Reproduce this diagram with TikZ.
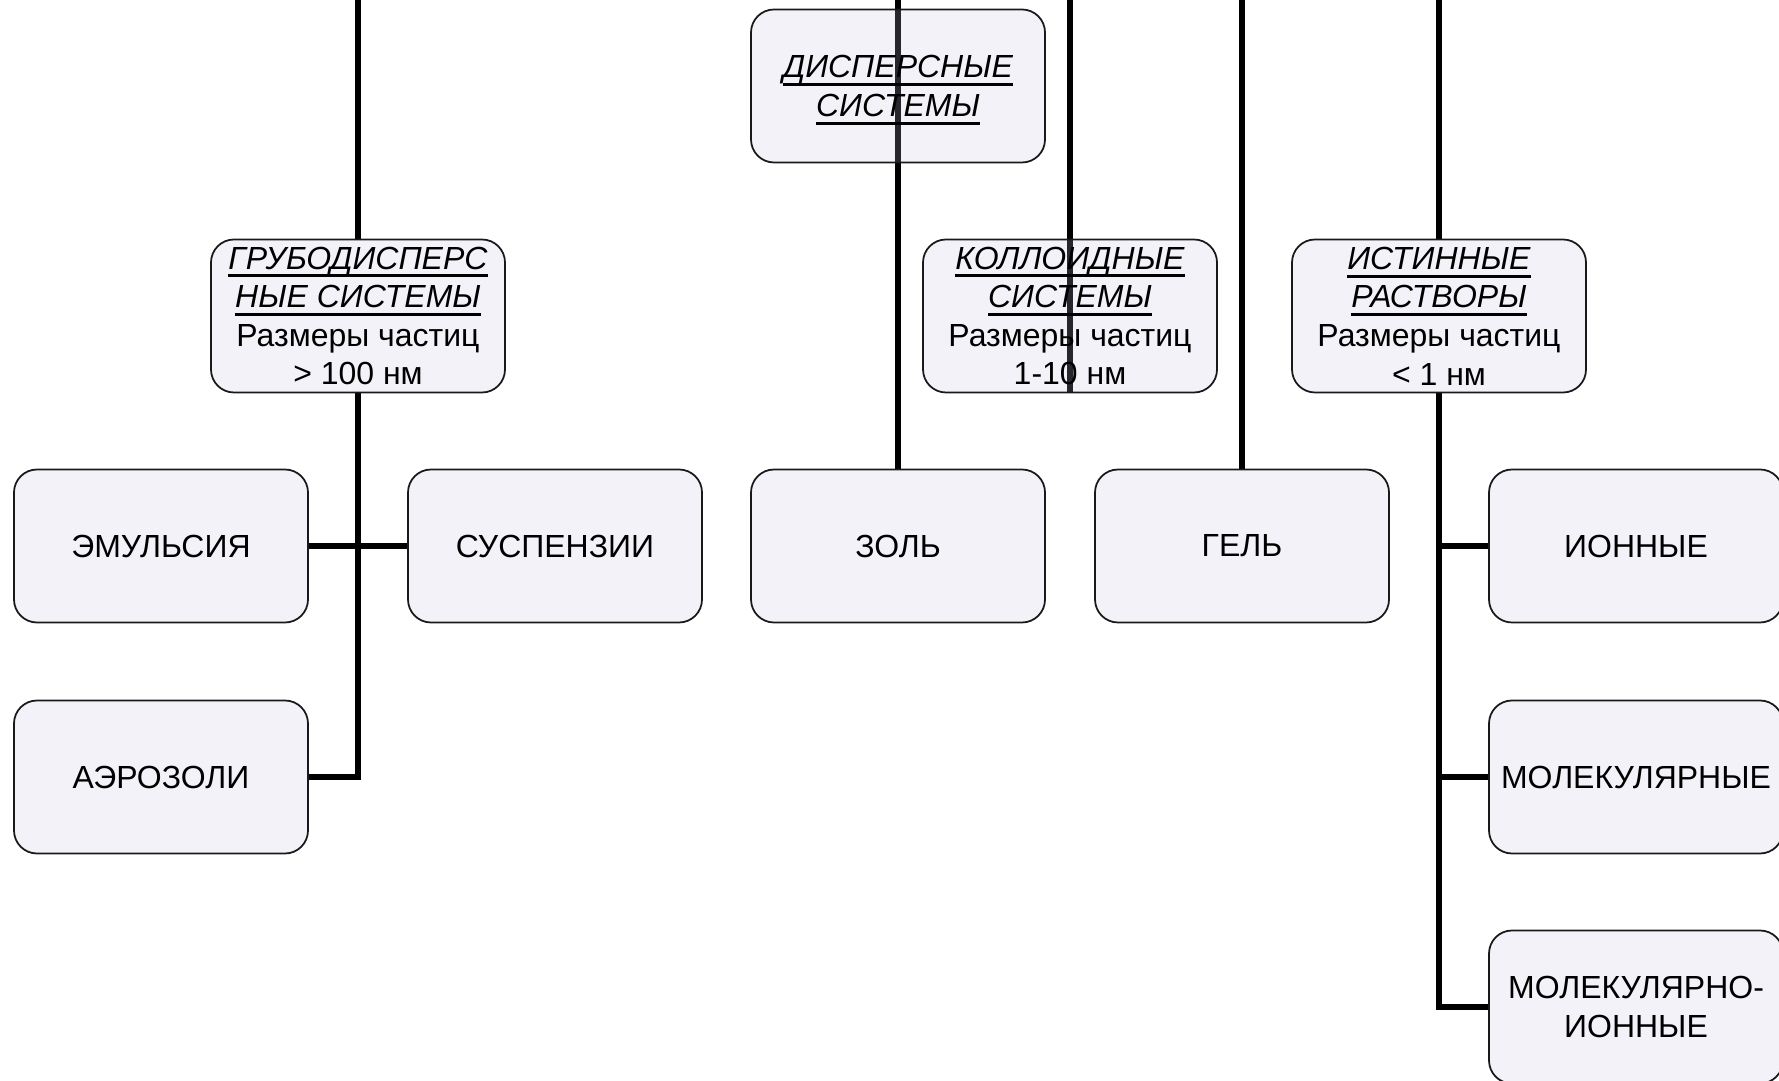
\documentclass[tikz,border=0pt]{standalone}
\usepackage{fontspec}
\setmainfont{Liberation Sans}
\usetikzlibrary{backgrounds}

\definecolor{fondocaja}{RGB}{190,190,222}
\tikzset{
  caja/.style={draw=black!90, line width=0.5pt, rounded corners=0.23cm,
    fill=fondocaja, fill opacity=0.2, text opacity=1,
    minimum width=2.94cm, minimum height=1.53cm, inner sep=1pt,
    align=center, font=\fontsize{9.1}{11}\selectfont},
  enlace/.style={line width=1.8pt, line join=miter}
}
\newsavebox{\titbox}
\newcommand{\titulo}[1]{\sbox{\titbox}{\textit{#1}}\rlap{\smash{\rule[-2.4pt]{\wd\titbox}{0.85pt}}}\usebox{\titbox}}

\begin{document}
\begin{tikzpicture}
\useasboundingbox (0,0) rectangle (17.79,-10.81);

% Raiz
\node[caja] (disp) at (8.98,-0.86) {\titulo{ДИСПЕРСНЫЕ}\\\titulo{СИСТЕМЫ}};

% Grupos
\node[caja] (grub) at (3.58,-3.16) {\titulo{ГРУБОДИСПЕРС}\\\titulo{НЫЕ СИСТЕМЫ}\\Размеры частиц\\> 100 нм};
\node[caja] (koll) at (10.70,-3.16) {\titulo{КОЛЛОИДНЫЕ}\\\titulo{СИСТЕМЫ}\\Размеры частиц\\1-10 нм};
\node[caja] (ist) at (14.39,-3.16) {\titulo{ИСТИННЫЕ}\\\titulo{РАСТВОРЫ}\\Размеры частиц\\< 1 нм};

% Грубодисперсные
\node[caja] (emul) at (1.61,-5.46) {ЭМУЛЬСИЯ};
\node[caja] (susp) at (5.55,-5.46) {СУСПЕНЗИИ};
\node[caja] (aero) at (1.61,-7.77) {АЭРОЗОЛИ};

% Коллоидные
\node[caja] (zol) at (8.98,-5.46) {ЗОЛЬ};
\node[caja] (gel) at (12.42,-5.46) {ГЕЛЬ};

% Истинные
\node[caja] (ion) at (16.36,-5.46) {ИОННЫЕ};
\node[caja] (molek) at (16.36,-7.77) {МОЛЕКУЛЯРНЫЕ};
\node[caja] (molion) at (16.36,-10.07) {МОЛЕКУЛЯРНО-\\ИОННЫЕ};

% extremos sueltos arriba
\coordinate (tgrub) at (3.58,0);
\coordinate (tzol) at (8.98,0);
\coordinate (tkoll) at (10.70,0);
\coordinate (tgel) at (12.42,0);
\coordinate (tist) at (14.39,0);

\begin{scope}[on background layer]
\draw[enlace] (tgrub) -- (grub.north);
\draw[enlace] (tzol) -- (zol.north);
\draw[enlace] (tkoll) -- (koll.south);
\draw[enlace] (tgel) -- (gel.north);
\draw[enlace] (tist) -- (ist.north);

\draw[enlace] (grub.south) |- (emul.east);
\draw[enlace] (grub.south) |- (susp.west);
\draw[enlace] (grub.south) |- (aero.east);

\draw[enlace] (ist.south) |- (ion.west);
\draw[enlace] (ist.south) |- (molek.west);
\draw[enlace] (ist.south) |- (molion.west);
\end{scope}

\end{tikzpicture}
\end{document}
